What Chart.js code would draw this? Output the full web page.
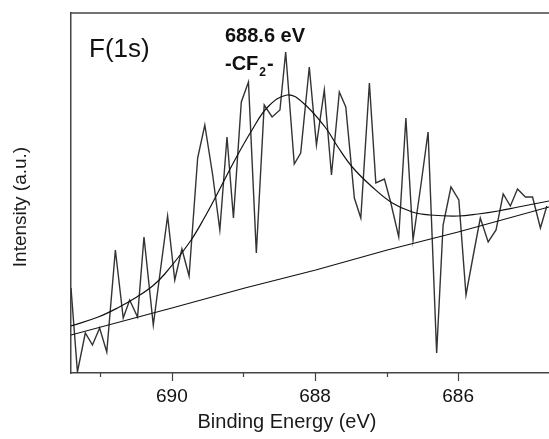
<!DOCTYPE html>
<html>
<head>
<meta charset="utf-8">
<script src="https://cdn.jsdelivr.net/npm/chart.js"></script>
<style>
  html, body { margin: 0; padding: 0; background: #fff; overflow: hidden; }
  #wrap { width: 549px; height: 439px; }
</style>
</head>
<body>
<div id="wrap"><canvas id="xpsChart" width="549" height="439"></canvas></div>
<script>
// F(1s) scan (arbitrary units)
const rawEnergy = [
  691.41, 691.32, 691.21, 691.11, 691.01, 690.91, 690.79, 690.68, 690.59, 690.48,
  690.39, 690.26, 690.16, 690.06, 689.96, 689.86, 689.76, 689.64, 689.54, 689.43,
  689.33, 689.23, 689.14, 689.03, 688.93, 688.82, 688.71, 688.60, 688.49, 688.41,
  688.29, 688.20, 688.08, 687.98, 687.87, 687.77, 687.66, 687.57, 687.45, 687.36,
  687.24, 687.15, 687.03, 686.94, 686.83, 686.73, 686.63, 686.52, 686.42, 686.30,
  686.21, 686.10, 685.99, 685.89, 685.79, 685.69, 685.58, 685.47, 685.37, 685.27,
  685.17, 685.06, 684.96, 684.85, 684.76
];
const rawCounts = [
  85, 1, 40, 28, 45, 21, 123, 55, 73, 56,
  136, 48, 103, 157, 93, 124, 97, 215, 248, 198,
  143, 236, 155, 271, 291, 120, 268, 256, 263, 321,
  209, 220, 306, 228, 283, 198, 281, 266, 175, 155,
  290, 190, 194, 170, 136, 255, 133, 188, 241, 20,
  148, 186, 173, 78, 117, 155, 131, 143, 179, 167,
  184, 176, 176, 145, 167
];

// fitted envelope (peak + baseline)
const fitEnergy = [
  691.41, 691.03, 690.76, 690.49, 690.27, 690.10, 689.75, 689.54, 689.36, 689.12,
  688.88, 688.66, 688.39, 688.18, 687.86, 687.68, 687.48, 687.20, 686.92, 686.64,
  686.39, 686.00, 685.72, 685.44, 685.16, 684.73
];
const fitCounts = [
  47, 56, 65, 76, 87, 99, 131, 156, 180, 213,
  243, 266, 278, 271, 246, 226, 206, 186, 170, 161,
  158, 157, 159, 162, 166, 172
];

// background line
const bgEnergy = [691.41, 690.00, 688.98, 687.99, 686.99, 686.00, 684.73];
const bgCounts = [38, 65, 85, 103, 123, 141, 166];

const majorTicks = [690, 688, 686];
const minorTicks = [691, 689, 687];

const fontFamily = '"Liberation Sans", Arial, sans-serif';
const axisColor = '#444';

function toPoints(xs, ys) {
  return xs.map((x, i) => ({ x: x, y: ys[i] }));
}

// frame top, tick marks and the texts
const decorPlugin = {
  id: 'decor',
  afterDraw(chart) {
    const ctx = chart.ctx;
    const area = chart.chartArea;
    const xScale = chart.scales.x;
    ctx.save();
    ctx.strokeStyle = axisColor;
    ctx.lineWidth = 1.5;
    ctx.beginPath();
    ctx.moveTo(area.left, area.top);
    ctx.lineTo(area.right, area.top);
    ctx.stroke();

    ctx.lineWidth = 1.2;
    majorTicks.forEach(v => {
      const px = Math.round(xScale.getPixelForValue(v)) + 0.5;
      ctx.beginPath();
      ctx.moveTo(px, area.bottom);
      ctx.lineTo(px, area.bottom + 8);
      ctx.stroke();
    });
    minorTicks.forEach(v => {
      const px = Math.round(xScale.getPixelForValue(v)) + 0.5;
      ctx.beginPath();
      ctx.moveTo(px, area.bottom);
      ctx.lineTo(px, area.bottom + 4);
      ctx.stroke();
    });

    ctx.fillStyle = '#111';
    ctx.textBaseline = 'alphabetic';
    ctx.textAlign = 'left';
    ctx.font = '26px ' + fontFamily;
    ctx.fillText('F(1s)', 89, 57);

    ctx.font = 'bold 20px ' + fontFamily;
    ctx.fillText('688.6 eV', 225, 42);
    let x = 225;
    ctx.fillText('-CF', x, 70);
    x += ctx.measureText('-CF').width;
    ctx.font = 'bold 12px ' + fontFamily;
    ctx.fillText('2', x + 1, 76);
    x += ctx.measureText('2').width + 2;
    ctx.font = 'bold 20px ' + fontFamily;
    ctx.fillText('-', x, 70);

    ctx.fillStyle = '#1a1a1a';
    ctx.textAlign = 'center';
    ctx.font = '20px ' + fontFamily;
    ctx.fillText('Binding Energy (eV)', 287, 428);

    ctx.translate(26, 207);
    ctx.rotate(-Math.PI / 2);
    ctx.font = '19px ' + fontFamily;
    ctx.fillText('Intensity (a.u.)', 0, 0);
    ctx.restore();
  }
};

const ctx = document.getElementById('xpsChart').getContext('2d');
new Chart(ctx, {
  type: 'line',
  data: {
    datasets: [
      {
        label: 'background',
        data: toPoints(bgEnergy, bgCounts),
        borderColor: '#111',
        borderWidth: 1.2,
        pointRadius: 0,
        tension: 0
      },
      {
        label: 'fit',
        data: toPoints(fitEnergy, fitCounts),
        borderColor: '#111',
        borderWidth: 1.2,
        pointRadius: 0,
        tension: 0.4
      },
      {
        label: 'F(1s)',
        data: toPoints(rawEnergy, rawCounts),
        borderColor: '#333',
        borderWidth: 1.4,
        pointRadius: 0,
        tension: 0
      }
    ]
  },
  options: {
    responsive: false,
    animation: false,
    layout: { padding: { left: 0, right: 0, top: 13, bottom: 0 } },
    plugins: {
      legend: { display: false },
      tooltip: { enabled: false }
    },
    scales: {
      x: {
        type: 'linear',
        reverse: true,
        min: 684.73,
        max: 691.41,
        grid: { display: false },
        border: { display: true, color: axisColor, width: 1.5 },
        afterBuildTicks: scale => { scale.ticks = majorTicks.map(v => ({ value: v })); },
        afterFit: scale => { scale.height = 66; },
        ticks: {
          color: '#111',
          padding: 4,
          autoSkip: false,
          maxRotation: 0,
          font: { family: fontFamily, size: 19 },
          callback: v => String(v)
        }
      },
      y: {
        min: 0,
        max: 360,
        grid: { display: false },
        border: { display: true, color: axisColor, width: 1.5 },
        ticks: { display: false },
        afterFit: scale => { scale.width = 71; }
      }
    }
  },
  plugins: [decorPlugin]
});
</script>
</body>
</html>
